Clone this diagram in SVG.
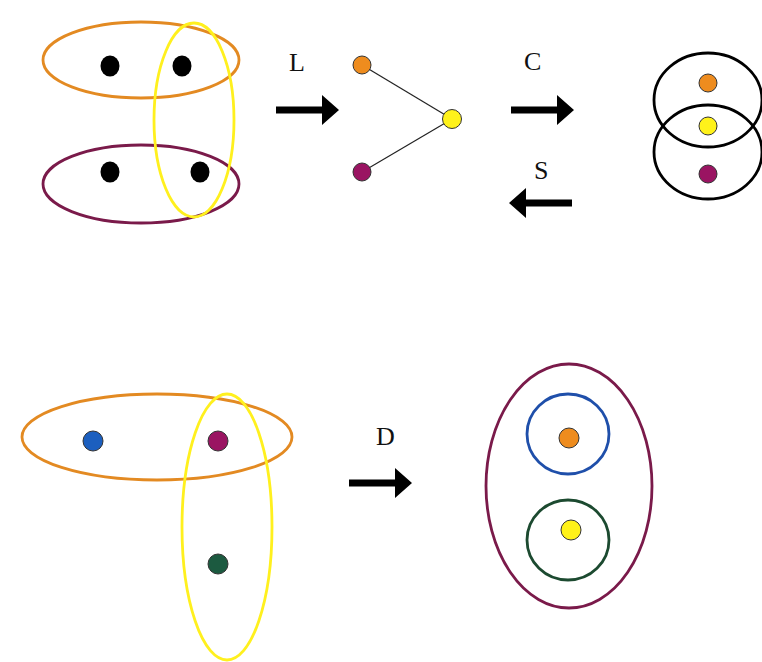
<svg xmlns="http://www.w3.org/2000/svg" width="762" height="662" viewBox="0 0 762 662">
<style>
.ring{fill:none;stroke-width:2.8}
.or{stroke:#E38A22}
.pu{stroke:#7A1A4A}
.ye{stroke:#FFF01E}
.bk{stroke:#000}
.bd{fill:#000}
.dot{stroke:#333;stroke-width:1}
.lbl{font-family:"Liberation Serif",serif;font-size:26px;fill:#111}
.arr{fill:#000}
.edge{stroke:#222;stroke-width:1.2}
</style>
<defs>
<path id="arrR" d="M0,-3.5 H46 V-15 L63,0 L46,15 V3.5 H0 Z"/>
</defs>
<rect width="762" height="662" fill="#fff"/>

<g id="hypergraph1">
<ellipse class="ring or" cx="141" cy="60" rx="98" ry="38"/>
<ellipse class="ring pu" cx="141" cy="184" rx="98" ry="39"/>
<ellipse class="ring ye" cx="194" cy="120" rx="40" ry="97"/>
<ellipse class="bd" cx="110" cy="66" rx="9.5" ry="10.5"/>
<ellipse class="bd" cx="182" cy="66" rx="9.5" ry="10.5"/>
<ellipse class="bd" cx="110" cy="172" rx="9.5" ry="10.5"/>
<ellipse class="bd" cx="200" cy="172" rx="9.5" ry="10.5"/>
</g>

<g id="connectors">
<g id="arrow-L">
<text class="lbl" x="289" y="71">L</text>
<use href="#arrR" class="arr" transform="translate(276,110)"/>
</g>
<g id="arrow-C">
<text class="lbl" x="524" y="70">C</text>
<use href="#arrR" class="arr" transform="translate(511,110)"/>
</g>
<g id="arrow-S">
<text class="lbl" x="534" y="179">S</text>
<use href="#arrR" class="arr" transform="translate(572,203) scale(-1,1)"/>
</g>
<g id="arrow-D">
<text class="lbl" x="376" y="445">D</text>
<use href="#arrR" class="arr" transform="translate(349,483)"/>
</g>
<line class="edge" x1="362" y1="65" x2="452" y2="119"/>
<line class="edge" x1="362" y1="172" x2="452" y2="119"/>
</g>

<g id="graph-L">
<circle class="dot" cx="362" cy="65" r="9" fill="#EE8C1E"/>
<circle class="dot" cx="452" cy="119" r="9.5" fill="#FFF21A"/>
<circle class="dot" cx="362" cy="172" r="9" fill="#9A1462"/>
</g>

<g id="complex-C">
<ellipse class="ring bk" cx="708" cy="100" rx="54" ry="47"/>
<ellipse class="ring bk" cx="708" cy="152" rx="54" ry="47"/>
<circle class="dot" cx="708" cy="83" r="9" fill="#EE8C1E"/>
<circle class="dot" cx="708" cy="126" r="9" fill="#FFF21A"/>
<circle class="dot" cx="708" cy="174" r="9" fill="#9A1462"/>
</g>

<g id="hypergraph2">
<ellipse class="ring or" cx="157" cy="437" rx="135" ry="43"/>
<ellipse class="ring ye" cx="227" cy="527" rx="45" ry="133"/>
<circle class="dot" cx="93" cy="441" r="10" fill="#1C5FBF"/>
<circle class="dot" cx="218" cy="441" r="10" fill="#9A1462"/>
<circle class="dot" cx="218" cy="564" r="10" fill="#1C5A40"/>
</g>

<g id="dual-D">
<ellipse class="ring pu" cx="569" cy="486" rx="83" ry="122"/>
<ellipse class="ring" cx="568" cy="434" rx="41" ry="40" stroke="#1F4FAA"/>
<ellipse class="ring" cx="568" cy="540" rx="41" ry="40" stroke="#1C4A30"/>
<circle class="dot" cx="569" cy="438" r="10" fill="#EE8C1E"/>
<circle class="dot" cx="571" cy="530" r="10" fill="#FFF21A"/>
</g>
</svg>
